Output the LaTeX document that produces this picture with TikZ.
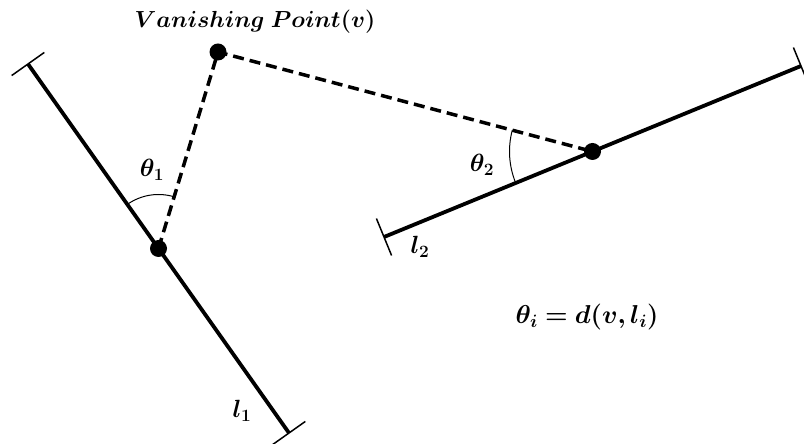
\documentclass[tikz,border=0pt]{standalone}
\usepackage{amsmath}
\usepackage{bm}
\usetikzlibrary{calc,angles}
\begin{document}
\begin{tikzpicture}[x=1pt,y=1pt,
  mainline/.style={line width=3.8pt},
  capline/.style={line width=1.5pt},
  dashline/.style={line width=3.5pt,dash pattern=on 11pt off 6pt},
  dotnode/.style={circle,fill=black,inner sep=0pt,minimum size=17pt},
  arcline/.style={line width=1pt},
  lbl/.style={inner sep=0pt,font=\fontsize{25}{28}\selectfont}]
\useasboundingbox (0,0) rectangle (804,444);
\coordinate (a1) at (28,380);
\coordinate (b1) at (289,11);
\coordinate (a2) at (384,207);
\coordinate (b2) at (801,378);
\coordinate (P1c) at ($(a1)!0.5!(b1)$);
\coordinate (P2c) at ($(a2)!0.5!(b2)$);
\coordinate (Vc) at (218,392);
% lines
\draw[mainline] (a1) -- (b1);
\draw[mainline] (a2) -- (b2);
% caps
\draw[capline] ($(a1)!20pt!90:(b1)$) -- ($(a1)!20pt!-90:(b1)$);
\draw[capline] ($(b1)!20pt!90:(a1)$) -- ($(b1)!20pt!-90:(a1)$);
\draw[capline] ($(a2)!20pt!90:(b2)$) -- ($(a2)!20pt!-90:(b2)$);
\draw[capline] ($(b2)!20pt!90:(a2)$) -- ($(b2)!20pt!-90:(a2)$);
% dashed
\draw[dashline] (P1c) -- (Vc) -- (P2c);
% angles
\draw[arcline] pic[draw,angle radius=54pt] {angle = Vc--P1c--a1};
\draw[arcline] pic[draw,angle radius=83pt] {angle = Vc--P2c--a2};
% dots
\node[dotnode] (P1) at (P1c) {};
\node[dotnode] (P2) at (P2c) {};
\node[dotnode] (V) at (Vc) {};
% labels
\node[lbl,font=\fontsize{23}{26}\selectfont] (vl) at (255,422) {\scalebox{0.935}{$\bm{Vanishing\ Point(v)}$}};
\node[lbl] (t1) at (152,274) {$\bm{\theta_1}$};
\node[lbl] (t2) at (482,279) {$\bm{\theta_2}$};
\node[lbl] (l2) at (420,197) {$\bm{l_2}$};
\node[lbl] (l1) at (242,33) {$\bm{l_1}$};
\node[lbl] (eq) at (587,127) {\scalebox{1.04}{$\bm{\theta_i = d(v,l_i)}$}};
\end{tikzpicture}
\end{document}
